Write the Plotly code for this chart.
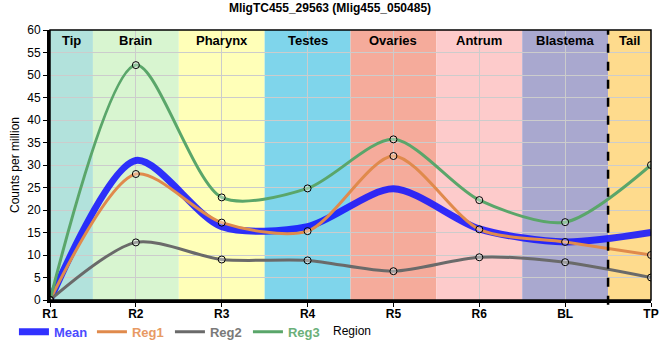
import plotly.graph_objects as go

categories = ["R1", "R2", "R3", "R4", "R5", "R6", "BL", "TP"]
mean_vals = [0, 31.0, 16.3, 16.3, 24.7, 15.8, 12.9, 15.0]
reg1_vals = [0, 28.0, 17.2, 15.3, 32.0, 15.7, 12.9, 10.0]
reg2_vals = [0, 12.8, 9.0, 8.8, 6.4, 9.5, 8.4, 5.0]
reg3_vals = [0, 52.2, 22.8, 24.8, 35.7, 22.2, 17.3, 30.0]

band_names = ["Tip", "Brain", "Pharynx", "Testes", "Ovaries", "Antrum", "Blastema", "Tail"]
band_starts = [0, 0.5, 1.5, 2.5, 3.5, 4.5, 5.5, 6.5]
band_ends = [0.5, 1.5, 2.5, 3.5, 4.5, 5.5, 6.5, 7]
band_colors = ["#b2e2dc", "#d8f5d0", "#ffffb8", "#7fd5eb", "#f5ab9b", "#fdcbcb", "#a9a8cf", "#fedb8d"]

xs = list(range(len(categories)))
SM = 0.8
fig = go.Figure()

fig.add_trace(go.Scatter(x=xs, y=mean_vals, mode="lines",
                         line=dict(color="rgba(20,20,255,0.88)", width=7, shape="spline", smoothing=SM),
                         name="<b><span style='color:#4a4aff'>Mean</span></b>"))
series = [("Reg1", reg1_vals, "#e08a4c", "#e89a64"),
          ("Reg2", reg2_vals, "#6a6a6a", "#7a7a7a"),
          ("Reg3", reg3_vals, "#5aa66a", "#6ab07a")]
for nm, vals, col, tcol in series:
    fig.add_trace(go.Scatter(x=xs, y=vals, mode="lines",
                             line=dict(color=col, width=3, shape="spline", smoothing=SM),
                             name=f"<b><span style='color:{tcol}'>{nm}</span></b>"))
for nm, vals, col, tcol in series:
    fig.add_trace(go.Scatter(x=xs, y=vals, mode="markers", showlegend=False,
                             marker=dict(size=7, color="rgba(255,255,255,0.35)",
                                         line=dict(color="black", width=1)),
                             name=nm))

shapes = []
for s, e, c in zip(band_starts, band_ends, band_colors):
    shapes.append(dict(type="rect", xref="x", yref="y", x0=s, x1=e, y0=0, y1=60,
                       fillcolor=c, line=dict(width=0), layer="below"))
shapes.append(dict(type="line", xref="x", yref="paper", x0=6.5, x1=6.5, y0=-0.018, y1=1,
                   line=dict(color="black", width=2.5, dash="dash")))
shapes.append(dict(type="rect", xref="paper", yref="paper", x0=0, x1=1, y0=0, y1=1,
                   line=dict(color="black", width=1.5), fillcolor="rgba(0,0,0,0)", layer="above"))
fig.update_layout(shapes=shapes)

annotations = []
for s, e, n in zip(band_starts, band_ends, band_names):
    annotations.append(dict(x=(s + e) / 2, y=57.7, xref="x", yref="y", text=f"<b>{n}</b>",
                            showarrow=False, font=dict(size=13, color="black")))
annotations.append(dict(x=0.502, y=-0.115, xref="paper", yref="paper", text="Region",
                        showarrow=False, xanchor="center", yanchor="middle",
                        font=dict(size=12, color="black")))
fig.update_layout(annotations=annotations)

fig.update_layout(
    width=660, height=360,
    margin=dict(l=50, r=9, t=30, b=60, autoexpand=False),
    paper_bgcolor="white", plot_bgcolor="white",
    font=dict(family="Liberation Sans, Arial, sans-serif", size=12, color="black"),
    title=dict(text="<b>MligTC455_29563 (Mlig455_050485)</b>", x=0.5, xanchor="center",
               y=0.99, yanchor="top", font=dict(size=12)),
    legend=dict(orientation="h", x=-0.06, xanchor="left", y=-0.062, yanchor="top",
                font=dict(size=13), bgcolor="rgba(0,0,0,0)", itemwidth=30,
                entrywidth=33, entrywidthmode="pixels", tracegroupgap=0),
    showlegend=True,
)
fig.update_xaxes(range=[0, 7], tickvals=xs, ticktext=[f"<b>{c}</b>" for c in categories],
                 showgrid=True, gridcolor="#cccccc", gridwidth=1, layer="above traces",
                 showline=True, linecolor="black", linewidth=3, mirror=False,
                 ticks="outside", ticklen=4, tickcolor="black", zeroline=False,
                 ticklabelstandoff=-3,
                 tickfont=dict(size=12), automargin=False)
fig.update_yaxes(range=[0, 60], dtick=5, showgrid=True, gridcolor="#cccccc", gridwidth=1,
                 showline=True, linecolor="black", linewidth=3,
                 ticks="outside", ticklen=4, tickcolor="black", zeroline=False,
                 title=dict(text="Counts per million", font=dict(size=12), standoff=6),
                 tickfont=dict(size=12), automargin=False)

fig.write_html("out.html", config={"displayModeBar": False},
               post_script="document.body.style.margin='0px';")
